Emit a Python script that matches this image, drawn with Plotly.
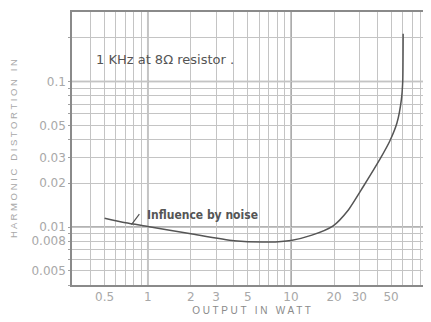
import plotly.graph_objects as go
import numpy as np

# Data
output_w = [0.5, 0.7, 1, 2, 4, 7, 10, 14, 19.7, 25, 32, 42, 49, 55, 59, 60.3, 60.7]
distortion = [0.0115, 0.0107, 0.0101, 0.0090, 0.00806, 0.0079, 0.0081, 0.0088, 0.0102, 0.013, 0.019, 0.0295, 0.039, 0.052, 0.075, 0.1, 0.213]

x_tick_vals = [0.5, 1, 2, 3, 5, 10, 20, 30, 50]
x_tick_text = ["0.5", "1", "2", "3", "5", "10", "20", "30", "50"]
y_tick_vals = [0.005, 0.008, 0.01, 0.02, 0.03, 0.05, 0.1]
y_tick_text = ["0.005", "0.008", "0.01", "0.02", "0.03", "0.05", "0.1"]

x_grid = [m * d for d in (0.1, 1, 10) for m in range(1, 10) if 0.3 <= m * d <= 95]
y_grid = [m * d for d in (0.001, 0.01, 0.1) for m in range(1, 10) if 0.004 <= m * d <= 0.3]
x_decades = [1, 10]
y_decades = [0.01, 0.1]

noise_note_x = 0.77
noise_note_y = 0.0104

def merge(grid, vals, texts):
    allv = sorted(set([round(g, 6) for g in grid] + vals))
    lab = {round(v, 6): t for v, t in zip(vals, texts)}
    return allv, [lab.get(round(v, 6), "") for v in allv]

xv, xt = merge(x_grid, x_tick_vals, x_tick_text)
yv, yt = merge(y_grid, y_tick_vals, y_tick_text)

fig = go.Figure()
fig.add_trace(go.Scatter(x=output_w, y=distortion, mode="lines",
                         line=dict(color="#555555", width=1.5, shape="spline", smoothing=0.6),
                         hoverinfo="skip", showlegend=False))

font_main = "DejaVu Sans"
tick_font = dict(family=font_main, size=12, color="#a8a8a8")

fig.update_xaxes(type="log", range=[np.log10(0.296), np.log10(95)], automargin=False,
                 tickvals=xv, ticktext=xt, tickfont=tick_font,
                 showgrid=True, gridcolor="#c4c4c4", gridwidth=1,
                 showline=True, linecolor="#8a8a8a", linewidth=1.5, mirror=True,
                 ticks="", zeroline=False,
                 title=dict(text="O U T P U T  &nbsp;I N  &nbsp;W A T T", font=dict(family="Liberation Sans", size=10, color="#8a8a8a"), standoff=4))
fig.update_yaxes(type="log", range=[np.log10(0.004), np.log10(0.3)], automargin=False,
                 tickvals=yv, ticktext=yt, tickfont=tick_font,
                 showgrid=True, gridcolor="#c4c4c4", gridwidth=1,
                 showline=True, linecolor="#8a8a8a", linewidth=1.5,
                 ticks="outside", ticklen=2, tickcolor="#a0a0a0", zeroline=False,
                 title=dict(text="H A R M O N I C  &nbsp;D I S T O R T I O N  &nbsp;I N", font=dict(family="Liberation Sans", size=9.5, color="#a8a8a8"), standoff=14))

shapes = []
for d in x_decades:
    shapes.append(dict(type="line", xref="x", yref="paper", x0=d, x1=d, y0=0, y1=1,
                       line=dict(color="#8a8a8a", width=1.5), layer="below"))
for d in y_decades:
    shapes.append(dict(type="line", xref="paper", yref="y", x0=0, x1=1, y0=d, y1=d,
                       line=dict(color="#9a9a9a", width=1.5), layer="below"))

annotations = [
    dict(text="1 KHz at 8\u03a9 resistor .", x=0.06, y=0.825, xref="paper", yref="paper",
         xanchor="left", yanchor="middle", showarrow=False,
         font=dict(family="DejaVu Sans", size=13, color="#555555")),
    dict(text="", x=np.log10(noise_note_x), y=np.log10(noise_note_y), xref="x", yref="y",
         ax=9, ay=-12, showarrow=True, arrowhead=0, arrowwidth=1.2, arrowcolor="#555555"),
    dict(text="<b>Influence by noise</b>", x=np.log10(noise_note_x), y=np.log10(noise_note_y),
         xref="x", yref="y", xanchor="left", yanchor="middle", xshift=14, yshift=10,
         showarrow=False,
         font=dict(family="DejaVu Sans Condensed", size=12, color="#555555")),
]

# the page body adds an 8px offset, so the figure is 8px smaller with reduced left/top margins
fig.update_layout(width=423, height=314, margin=dict(l=64, r=0, t=4, b=37),
                  paper_bgcolor="white", plot_bgcolor="white",
                  shapes=shapes, annotations=annotations, showlegend=False)

fig.write_html("out.html")
